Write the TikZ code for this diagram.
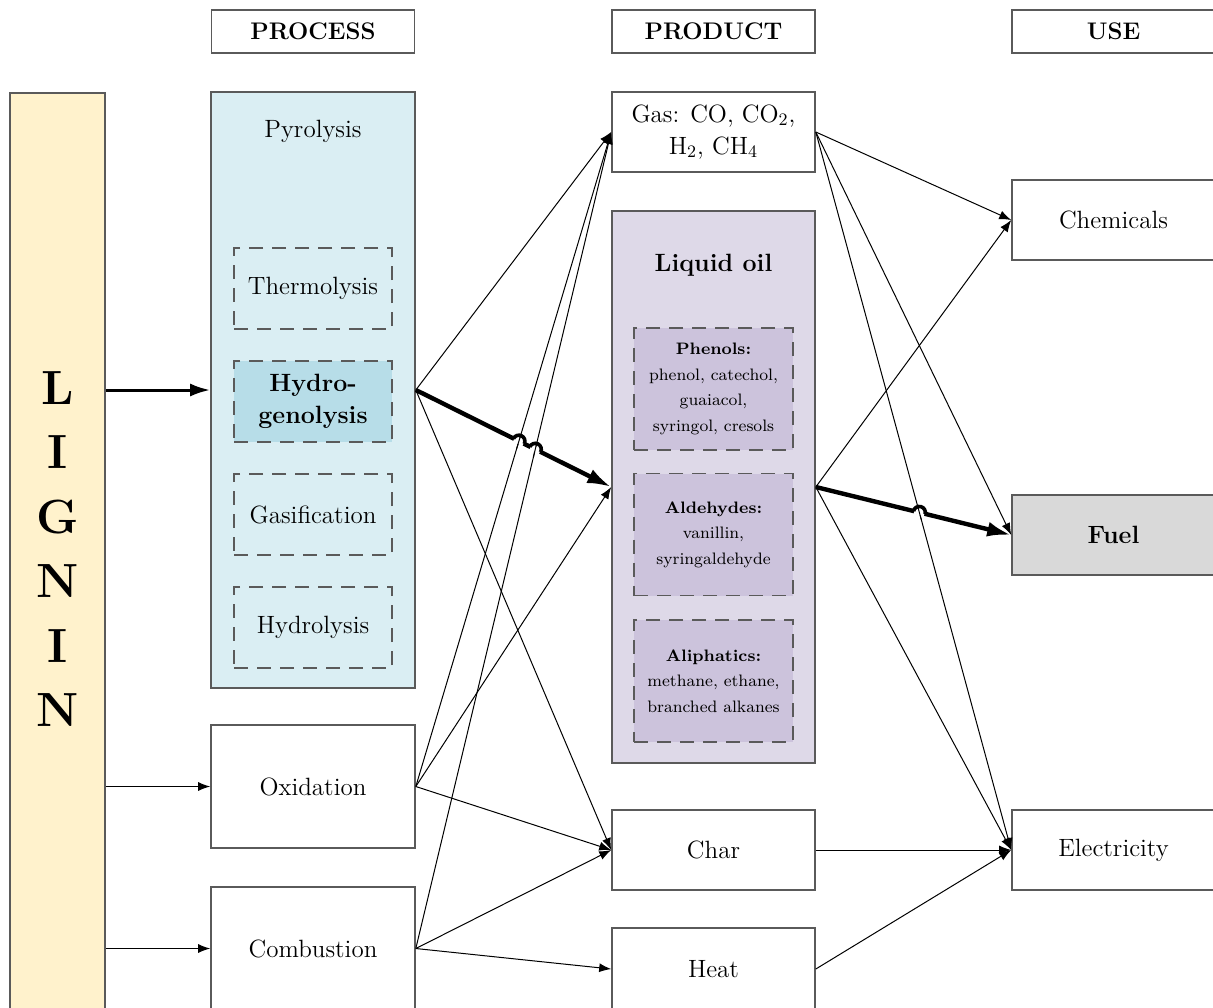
\documentclass[tikz,border=0pt]{standalone}
\usetikzlibrary{arrows.meta,intersections}
\definecolor{bordc}{HTML}{5A5A5A}
\definecolor{ligfill}{HTML}{FFF2CC}
\definecolor{profill}{HTML}{DAEEF3}
\definecolor{hydfill}{HTML}{B7DDE8}
\definecolor{liqfill}{HTML}{DED9E8}
\definecolor{subfill}{HTML}{CCC3DC}
\definecolor{fuelfill}{HTML}{D9D9D9}
\begin{document}
\begin{tikzpicture}[x=0.5pt,y=-0.5pt,
  box/.style={draw=bordc,line width=0.8pt,inner sep=0pt,align=center,font=\fontsize{12.5}{16}\selectfont},
  wbox/.style={box,fill=white,minimum width=101.5pt,minimum height=40pt},
  headbox/.style={box,fill=white,minimum width=101.5pt,minimum height=21.5pt,font=\fontsize{12}{14}\selectfont\bfseries},
  dbox/.style={box,dash pattern=on 7pt off 4.5pt,minimum width=79pt,minimum height=40.5pt},
  sbox/.style={dbox,fill=subfill,minimum width=79.5pt,minimum height=61pt,font=\fontsize{8.3}{12.7}\selectfont},
  arrS/.style={-{Latex[length=6pt,width=4.5pt]},line width=0.5pt},
  arrB/.style={-{Latex[length=12pt,width=7.5pt]},line width=2.2pt},
  arrL/.style={-{Latex[length=10pt,width=6.5pt]},line width=1.5pt},
  hop/.style={line width=1.8pt},
  erase/.style={draw=white,line width=2.8pt,line cap=butt},
  txt/.style={inner sep=0pt,font=\fontsize{12.5}{16}\selectfont,align=center}
]
\useasboundingbox (0,0) rectangle (1213,1007);

% headers
\node[headbox] (hproc) at (313,31.5) {PROCESS};
\node[headbox] (hprod) at (713.5,31.5) {PRODUCT};
\node[headbox] (huse) at (1113.5,31.5) {USE};

% lignin bar
\node[box,fill=ligfill,minimum width=47.5pt,minimum height=460pt,anchor=north] (lig) at (57.5,92) {};
\node[inner sep=0pt,align=center,font=\fontsize{24}{32.25}\selectfont\bfseries] (ligtxt) at (57.5,549) {L\\I\\G\\N\\I\\N};

% process column
\node[box,fill=profill,minimum width=102pt,minimum height=298pt] (proc) at (313,390) {};
\node[txt] (pyro) at (313,131) {Pyrolysis};
\node[dbox] (thermo) at (313,288.5) {Thermolysis};
\node[dbox,fill=hydfill,font=\fontsize{12.5}{16}\selectfont\bfseries] (hydro) at (313,401.5) {Hydro-\\genolysis};
\node[dbox] (gasif) at (313,514.5) {Gasification};
\node[dbox] (hydrol) at (313,627.5) {Hydrolysis};
\node[wbox,minimum width=102pt,minimum height=61.5pt] (ox) at (313,786.5) {Oxidation};
\node[wbox,minimum width=102pt,minimum height=61.5pt] (comb) at (313,948.5) {Combustion};

% product column
\node[wbox] (gas) at (713.5,132) {Gas: CO, CO\textsubscript{2},\\H\textsubscript{2}, CH\textsubscript{4}};
\node[box,fill=liqfill,minimum width=101.5pt,minimum height=276pt] (liq) at (713.5,487) {};
\node[txt,font=\fontsize{12.5}{16}\selectfont\bfseries] (liqtxt) at (713.5,265) {Liquid oil};
\node[sbox] (phen) at (713.5,389) {\textbf{Phenols:}\\phenol, catechol,\\guaiacol,\\syringol, cresols};
\node[sbox] (alde) at (713.5,534.5) {\textbf{Aldehydes:}\\vanillin,\\syringaldehyde};
\node[sbox] (alip) at (713.5,681) {\textbf{Aliphatics:}\\methane, ethane,\\branched alkanes};
\node[wbox] (char) at (713.5,850) {Char};
\node[wbox,minimum height=41pt] (heat) at (713.5,969) {Heat};

% use column
\node[wbox] (chem) at (1113.5,220) {Chemicals};
\node[wbox,fill=fuelfill,font=\fontsize{12.5}{16}\selectfont\bfseries] (fuel) at (1113.5,535) {Fuel};
\node[wbox] (elec) at (1113.5,850) {Electricity};

% lignin to processes
\draw[arrL] (proc.west -| lig.east) -- (proc.west);
\draw[arrS] (ox.west -| lig.east) -- (ox.west);
\draw[arrS] (comb.west -| lig.east) -- (comb.west);

% processes to products
\draw[arrS] (proc.east) -- (gas.west);
\draw[arrS] (proc.east) -- (char.west);
\draw[arrS,name path=oxgas] (ox.east) -- (gas.west);
\draw[arrS] (ox.east) -- (liq.west);
\draw[arrS] (ox.east) -- (char.west);
\draw[arrS,name path=combgas] (comb.east) -- (gas.west);
\draw[arrS] (comb.east) -- (char.west);
\draw[arrS] (comb.east) -- (heat.west);
\draw[arrB,name path=procliq] (proc.east) -- (liq.west);

% products to uses
\draw[arrS] (gas.east) -- (chem.west);
\draw[arrS] (gas.east) -- (fuel.west);
\draw[arrS,name path=gaselec] (gas.east) -- (elec.west);
\draw[arrS] (liq.east) -- (chem.west);
\draw[arrS] (liq.east) -- (elec.west);
\draw[arrS] (char.east) -- (elec.west);
\draw[arrS] (heat.east) -- (elec.west);
\draw[arrB,name path=liqfuel] (liq.east) -- (fuel.west);

% line hops on the thick connectors
\path[name intersections={of=procliq and oxgas,by=ha}];
\path[name intersections={of=procliq and combgas,by=hb}];
\path[name intersections={of=liqfuel and gaselec,by=hc}];
\draw[erase] (ha) ++(153.8:2.6pt) -- ++(-26.2:5.2pt);
\draw[erase] (hb) ++(153.8:2.6pt) -- ++(-26.2:5.2pt);
\draw[erase] (hc) ++(166.3:2.6pt) -- ++(-13.7:5.2pt);
\begin{scope}
  \clip (ha) circle (4pt);
  \draw[line width=0.5pt] (ox.east) -- (gas.west);
\end{scope}
\begin{scope}
  \clip (hb) circle (4pt);
  \draw[line width=0.5pt] (comb.east) -- (gas.west);
\end{scope}
\begin{scope}
  \clip (hc) circle (4pt);
  \draw[line width=0.5pt] (gas.east) -- (elec.west);
\end{scope}
\draw[hop] (ha) ++(153.8:3pt) arc[start angle=153.8,end angle=-26.2,radius=3pt];
\draw[hop] (hb) ++(153.8:3pt) arc[start angle=153.8,end angle=-26.2,radius=3pt];
\draw[hop] (hc) ++(166.3:3pt) arc[start angle=166.3,end angle=-13.7,radius=3pt];
\end{tikzpicture}
\end{document}
